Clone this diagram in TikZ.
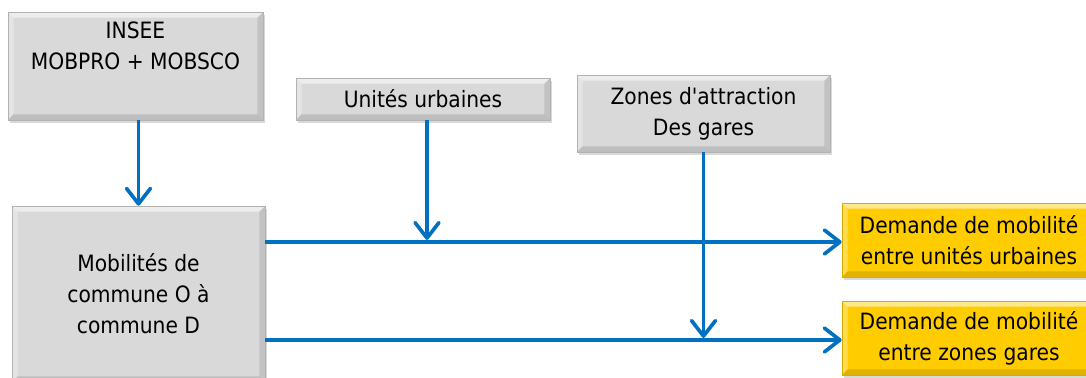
\documentclass[tikz,border=0pt]{standalone}
\usepackage{fontspec}
\setmainfont{DejaVu Sans Condensed}
\usepackage{tikz}
\usetikzlibrary{arrows.meta,shadows}

\definecolor{boxgray}{HTML}{D9D9D9}
\definecolor{boxyellow}{HTML}{FFCC00}
\definecolor{flowblue}{HTML}{0070C0}

\tikzset{
  bevel/.style={path picture={
      \fill[white,opacity=.55] (path picture bounding box.north west) -- (path picture bounding box.north east)
        -- ([shift={(-4pt,-4pt)}]path picture bounding box.north east) -- ([shift={(4pt,-4pt)}]path picture bounding box.north west) -- cycle;
      \fill[white,opacity=.3] (path picture bounding box.north west) -- (path picture bounding box.south west)
        -- ([shift={(4pt,4pt)}]path picture bounding box.south west) -- ([shift={(4pt,-4pt)}]path picture bounding box.north west) -- cycle;
      \fill[black,opacity=.12] (path picture bounding box.south west) -- (path picture bounding box.south east)
        -- ([shift={(-4pt,4pt)}]path picture bounding box.south east) -- ([shift={(4pt,4pt)}]path picture bounding box.south west) -- cycle;
      \fill[black,opacity=.1] (path picture bounding box.north east) -- (path picture bounding box.south east)
        -- ([shift={(-4pt,4pt)}]path picture bounding box.south east) -- ([shift={(-4pt,-4pt)}]path picture bounding box.north east) -- cycle;
    }},
  srcbox/.style={rectangle,fill=boxgray,draw=gray!60,line width=.4pt,bevel,align=center,inner sep=0pt,
    drop shadow={shadow xshift=1.5pt,shadow yshift=-2pt,opacity=.3}},
  outbox/.style={srcbox,fill=boxyellow,draw=boxyellow!85!black},
  flow/.style={draw=flowblue,line width=2.6pt,-{Straight Barb[length=11pt,width=17pt,round]}},
  every node/.style={font=\fontsize{16}{22}\selectfont}
}

\begin{document}
\begin{tikzpicture}[x=0.025cm,y=-0.025cm]
  \useasboundingbox (0,0) rectangle (1086,377);

  % sources
  \node[srcbox,minimum width=6.375cm,minimum height=2.7cm] (insee) at (135.5,66) {INSEE\\MOBPRO + MOBSCO\\\strut};
  \node[srcbox,minimum width=6.35cm,minimum height=1.05cm] (unites) at (423,99) {Unités urbaines};
  \node[srcbox,minimum width=6.325cm,minimum height=1.925cm] (zones) at (703.5,113.5) {Zones d\textquotesingle attraction\\Des gares};
  \node[srcbox,minimum width=6.325cm,minimum height=4.4cm] (mob) at (138.5,294) {Mobilités de\\commune O à\\commune D};

  % results
  \node[outbox,minimum width=6.35cm,minimum height=1.85cm] (uu) at (969,240) {Demande de mobilité\\entre unités urbaines};
  \node[outbox,minimum width=6.35cm,minimum height=1.85cm] (zg) at (969,338) {Demande de mobilité\\entre zones gares};

  \coordinate (j1) at (427,242);
  \coordinate (j2) at (703.5,340);

  \draw[flow] (mob.north |- insee.south) -- (mob.north);
  \draw[flow] (mob.east |- j1) -- (uu.west |- j1);
  \draw[flow] (mob.east |- j2) -- (zg.west |- j2);
  \draw[flow,shorten >=1.5pt] (unites.south -| j1) -- (j1);
  \draw[flow,shorten >=1.5pt] (zones.south -| j2) -- (j2);
\end{tikzpicture}
\end{document}
